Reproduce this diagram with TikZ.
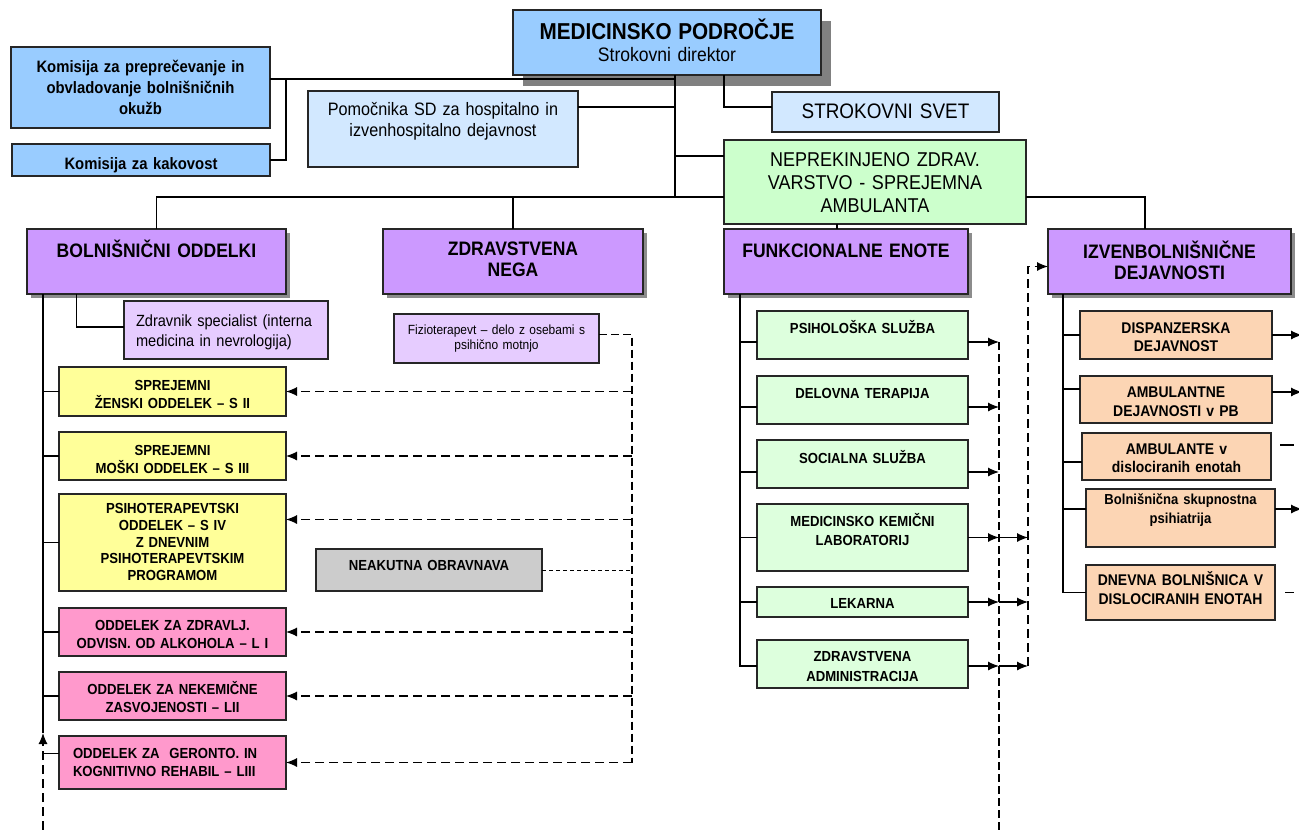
\documentclass[tikz,border=0pt]{standalone}
\usepackage{fontspec}
\setmainfont[FakeStretch=0.9]{Liberation Sans}
\usepackage{xcolor}
\usetikzlibrary{arrows.meta,shadows}
\newcommand\fsz[2]{\fontsize{#1}{#2}\selectfont}
\definecolor{medblue}{HTML}{99CCFF}
\definecolor{paleblue}{HTML}{D2E8FF}
\definecolor{palegreen}{HTML}{CCFFCC}
\definecolor{violet2}{HTML}{CC99FF}
\definecolor{lilac}{HTML}{E6CCFF}
\definecolor{lemon}{HTML}{FFFF99}
\definecolor{rose}{HTML}{FF99CC}
\definecolor{mint}{HTML}{DDFFDD}
\definecolor{peach}{HTML}{FCD5B4}
\definecolor{neakgray}{HTML}{CCCCCC}

\begin{document}
\begin{tikzpicture}[x=1pt,y=-1pt,line width=1.1pt,>={Latex[length=11pt,width=9pt]},
		box/.style={draw=black!85,inner xsep=4pt,inner ysep=0pt,outer sep=0pt,anchor=north west,align=center},
		big/.style={font=\bfseries\fsz{19.5}{21}},
		lbl/.style={font=\bfseries\fsz{14.6}{18.5}},
		shade/.style={drop shadow={shadow xshift=4pt,shadow yshift=-4pt,fill=black!45,opacity=1}},
		dline/.style={dash pattern=on 8pt off 4pt},
		dasharrow/.style={->,dash pattern=on 9pt off 5pt},
		dotline/.style={dash pattern=on 4pt off 3pt,line width=1pt},
		arr/.style={->}]
	\useasboundingbox (0,0) rectangle (1299,830);

	% top
	\node[box,fill=medblue,text width=300pt,text height=29.3pt,text depth=35.7pt,font=\fsz{19.5}{22},
		drop shadow={shadow xshift=10pt,shadow yshift=-11pt,fill=black!50,opacity=1}] (med) at (513,10)
		{{\fsz{23}{22}\bfseries MEDICINSKO PODROČJE}\\Strokovni direktor};
	\node[box,fill=medblue,text width=251pt,text height=25.2pt,text depth=55.8pt,font=\bfseries\fsz{16.5}{21}] (k1) at (11,47)
		{Komisija za preprečevanje in\\obvladovanje bolnišničnih\\okužb};
	\node[box,fill=medblue,text width=250pt,text height=25pt,text depth=7pt,font=\bfseries\fsz{16.5}{21}] (kak) at (12,144)
		{Komisija za kakovost};
	\node[box,fill=paleblue,text width=262pt,text height=24pt,text depth=52pt,font=\fsz{18}{21}] (pom) at (308,91)
		{Pomočnika SD za hospitalno in\\izvenhospitalno dejavnost};
	\node[box,fill=paleblue,text width=219pt,text height=26pt,text depth=14pt,font=\fsz{21}{24}] (svet) at (772,92)
		{STROKOVNI SVET};
	\node[box,fill=palegreen,text width=294pt,text height=26.7pt,text depth=57.3pt,font=\fsz{20}{23}] (nep) at (724,140)
		{NEPREKINJENO ZDRAV.\\VARSTVO - SPREJEMNA\\AMBULANTA};

	% second level
	\node[box,big,shade,fill=violet2,text width=251pt,text height=28.3pt,text depth=36.7pt] (boln) at (27,229) {BOLNIŠNIČNI ODDELKI};
	\node[box,big,shade,fill=violet2,text width=252pt,text height=26.5pt,text depth=38.5pt] (zdr) at (383,229) {ZDRAVSTVENA\\NEGA};
	\node[box,big,shade,fill=violet2,text width=236pt,text height=28pt,text depth=37pt] (funk) at (724,229) {FUNKCIONALNE ENOTE};
	\node[box,big,shade,fill=violet2,text width=235pt,text height=29.3pt,text depth=35.7pt] (izv) at (1048,229) {IZVENBOLNIŠNIČNE\\DEJAVNOSTI};

	% bolnisnicni oddelki
	\node[box,fill=lilac,inner xsep=12pt,align=left,text width=180pt,text height=25pt,text depth=33pt,font=\fsz{16.2}{20}] (zs) at (124,301)
		{Zdravnik specialist (interna\\medicina in nevrologija)};
	\node[box,lbl,fill=lemon,text width=219pt,text height=23pt,text depth=26pt] (y1) at (59,367) {SPREJEMNI\\ŽENSKI ODDELEK – S II};
	\node[box,lbl,fill=lemon,text width=219pt,text height=23pt,text depth=25pt] (y2) at (59,432) {SPREJEMNI\\MOŠKI ODDELEK – S III};
	\node[box,lbl,fill=lemon,text width=219pt,text height=19.7pt,text depth=77.3pt,font=\bfseries\fsz{14.6}{16.7}] (y3) at (59,494)
		{PSIHOTERAPEVTSKI\\ODDELEK – S IV\\Z DNEVNIM\\PSIHOTERAPEVTSKIM\\PROGRAMOM};
	\node[box,lbl,fill=rose,text width=219pt,text height=22pt,text depth=26pt] (p1) at (59,608) {ODDELEK ZA ZDRAVLJ.\\ODVISN. OD ALKOHOLA – L I};
	\node[box,lbl,fill=rose,text width=219pt,text height=22pt,text depth=26pt] (p2) at (59,672) {ODDELEK ZA NEKEMIČNE\\ZASVOJENOSTI – LII};
	\node[box,lbl,fill=rose,inner xsep=14pt,align=left,text width=199pt,text height=22.3pt,text depth=30.7pt,font=\bfseries\fsz{14.6}{17.7}] (p3) at (59,736)
		{ODDELEK ZA \ GERONTO. IN\\KOGNITIVNO REHABIL – LIII};

	% zdravstvena nega
	\node[box,fill=lilac,text width=197pt,text height=20.7pt,text depth=28.3pt,font=\fsz{13.3}{14.8}] (fizio) at (394,314)
		{Fizioterapevt – delo z osebami s\\psihično motnjo};
	\node[box,lbl,fill=neakgray,text width=218pt,text height=21pt,text depth=21pt] (neak) at (316,549) {NEAKUTNA OBRAVNAVA};

	% funkcionalne enote
	\node[box,lbl,fill=mint,text width=203pt,text height=22.3pt,text depth=25.7pt] (g1) at (757,311) {PSIHOLOŠKA SLUŽBA};
	\node[box,lbl,fill=mint,text width=203pt,text height=22.3pt,text depth=25.7pt] (g2) at (757,376) {DELOVNA TERAPIJA};
	\node[box,lbl,fill=mint,text width=203pt,text height=23.3pt,text depth=24.7pt] (g3) at (757,440) {SOCIALNA SLUŽBA};
	\node[box,lbl,fill=mint,text width=203pt,text height=22.7pt,text depth=44.3pt] (g4) at (757,504) {MEDICINSKO KEMIČNI\\LABORATORIJ};
	\node[box,lbl,fill=mint,text width=203pt,text height=21.3pt,text depth=8.7pt] (g5) at (757,587) {LEKARNA};
	\node[box,lbl,fill=mint,text width=203pt,text height=21.7pt,text depth=26.3pt,font=\bfseries\fsz{14.6}{20}] (g6) at (757,640) {ZDRAVSTVENA\\ADMINISTRACIJA};

	% izvenbolnisnicne dejavnosti
	\node[box,fill=peach,text width=184pt,text height=22.3pt,text depth=25.7pt,font=\bfseries\fsz{15.5}{18.5}] (o1) at (1080,311) {DISPANZERSKA\\DEJAVNOST};
	\node[box,fill=peach,text width=184pt,text height=21.3pt,text depth=25.7pt,font=\bfseries\fsz{15.5}{18.7}] (o2) at (1080,376) {AMBULANTNE\\DEJAVNOSTI v PB};
	\node[box,fill=peach,text width=181pt,text height=21pt,text depth=26pt,font=\bfseries\fsz{15.5}{18.7}] (o3) at (1082,433) {AMBULANTE v\\dislociranih enotah};
	\node[box,fill=peach,text width=181pt,text height=15pt,text depth=43pt,font=\bfseries\fsz{14.5}{19}] (o4) at (1086,489) {Bolnišnična skupnostna\\psihiatrija};
	\node[box,fill=peach,text width=181pt,text height=20.5pt,text depth=34.5pt,font=\bfseries\fsz{15.5}{19}] (o5) at (1086,565) {DNEVNA BOLNIŠNICA V\\DISLOCIRANIH ENOTAH};

	\coordinate (trunk) at ([xshift=8pt]med.south);
	\coordinate (ktop) at ([yshift=8.5pt]k1.east);
	\coordinate (bus) at ([yshift=-15pt]nep.west);
	\coordinate (bot) at (0,830);
	\coordinate (redge) at (1302,0);
	\coordinate (rdash) at (1294,0);

	% solid connectors at the top
	\draw (ktop) -- (ktop -| trunk);
	\draw (kak.east) -| ([xshift=16pt]ktop);
	\draw (trunk) -- (trunk |- bus);
	\draw ([yshift=22pt]pom.east) -- ([yshift=22pt]pom.east -| trunk);
	\draw ([xshift=57pt]med.south) |- ([yshift=5pt]svet.west);
	\draw ([yshift=26pt]nep.west) -- ([yshift=26pt]nep.west -| trunk);
	\draw (boln.north) |- (bus);
	\draw (zdr.north) -- (zdr.north |- bus);
	\draw (nep.east |- bus) -| ([xshift=-24.5pt]izv.north);
	\draw ([xshift=-9pt]funk.north) -- ([xshift=-9pt]funk.north |- nep.south);

	% bolnisnicni oddelki
	\coordinate (lt) at ([xshift=-113.5pt]boln.south);
	\coordinate (ltip) at ([yshift=3pt]p3.north -| lt);
	\draw ([xshift=-80pt]boln.south) |- ([yshift=3pt]zs.west);
	\draw (lt) -- (ltip);
	\draw[dasharrow] (lt |- bot) -- (ltip);
	\foreach \n in {y1,y2,y3,p1,p2}
		\draw (\n.west -| lt) -- (\n.west);
	\draw ([yshift=9pt]p3.west -| lt) -- ([yshift=9pt]p3.west);

	% zdravstvena nega
	\coordinate (dv) at ([xshift=33pt]fizio.east);
	\draw[dline] ([yshift=4pt]fizio.east) -- ([yshift=4pt]dv) -- (dv |- p3.east);
	\foreach \n in {y1,y2,p1,p2,p3}
		\draw[dasharrow] (\n.east -| dv) -- (\n.east);
	\draw[dasharrow] ([yshift=23pt]y3.east -| dv) -- ([yshift=23pt]y3.east);
	\draw[dotline] (neak.east) -- (neak.east -| dv);

	% funkcionalne enote
	\coordinate (ft) at ([xshift=-106pt]funk.south);
	\coordinate (dv2) at ([xshift=31pt]g1.east);
	\coordinate (dv3) at ([xshift=60pt]g1.east);
	\draw (ft) |- ([yshift=-2pt]g6.west);
	\foreach \n/\s in {g1/-7pt,g2/-7pt,g3/-8pt,g4/0pt,g5/0pt}
		\draw ([yshift=\s]\n.west -| ft) -- ([yshift=\s]\n.west);
	\foreach \n/\s in {g1/-7pt,g2/-7pt,g3/-8pt,g4/0pt,g5/0pt,g6/-2pt}
		\draw[arr] ([yshift=\s]\n.east) -- ([yshift=\s]\n.east -| dv2);
	\foreach \n/\s in {g4/0pt,g5/0pt,g6/-2pt}
		\draw[arr] ([yshift=\s]\n.east -| dv2) -- ([yshift=\s]\n.east -| dv3);
	\draw[dline] ([yshift=-7pt]g1.east -| dv2) -- (dv2 |- bot);
	\draw[dasharrow] ([yshift=-2pt]g6.east -| dv3) |- ([yshift=-5pt]izv.west);

	% izvenbolnisnicne dejavnosti
	\coordinate (it) at ([xshift=-106.5pt]izv.south);
	\draw (it) |- (o5.west);
	\foreach \n/\s in {o1/0pt,o2/10.5pt,o3/-5.5pt,o4/9pt}
		\draw ([yshift=\s]\n.west -| it) -- ([yshift=\s]\n.west);
	\foreach \n/\s in {o1/0pt,o2/7.5pt,o4/9pt}
		\draw[arr] ([yshift=\s]\n.east) -- ([yshift=\s]\n.east -| redge);
	\draw ([xshift=9pt,yshift=11.5pt]o3.east) -- ([yshift=11.5pt]o3.east -| rdash);
	\draw ([xshift=10pt]o5.east) -- (o5.east -| rdash);
\end{tikzpicture}
\end{document}
